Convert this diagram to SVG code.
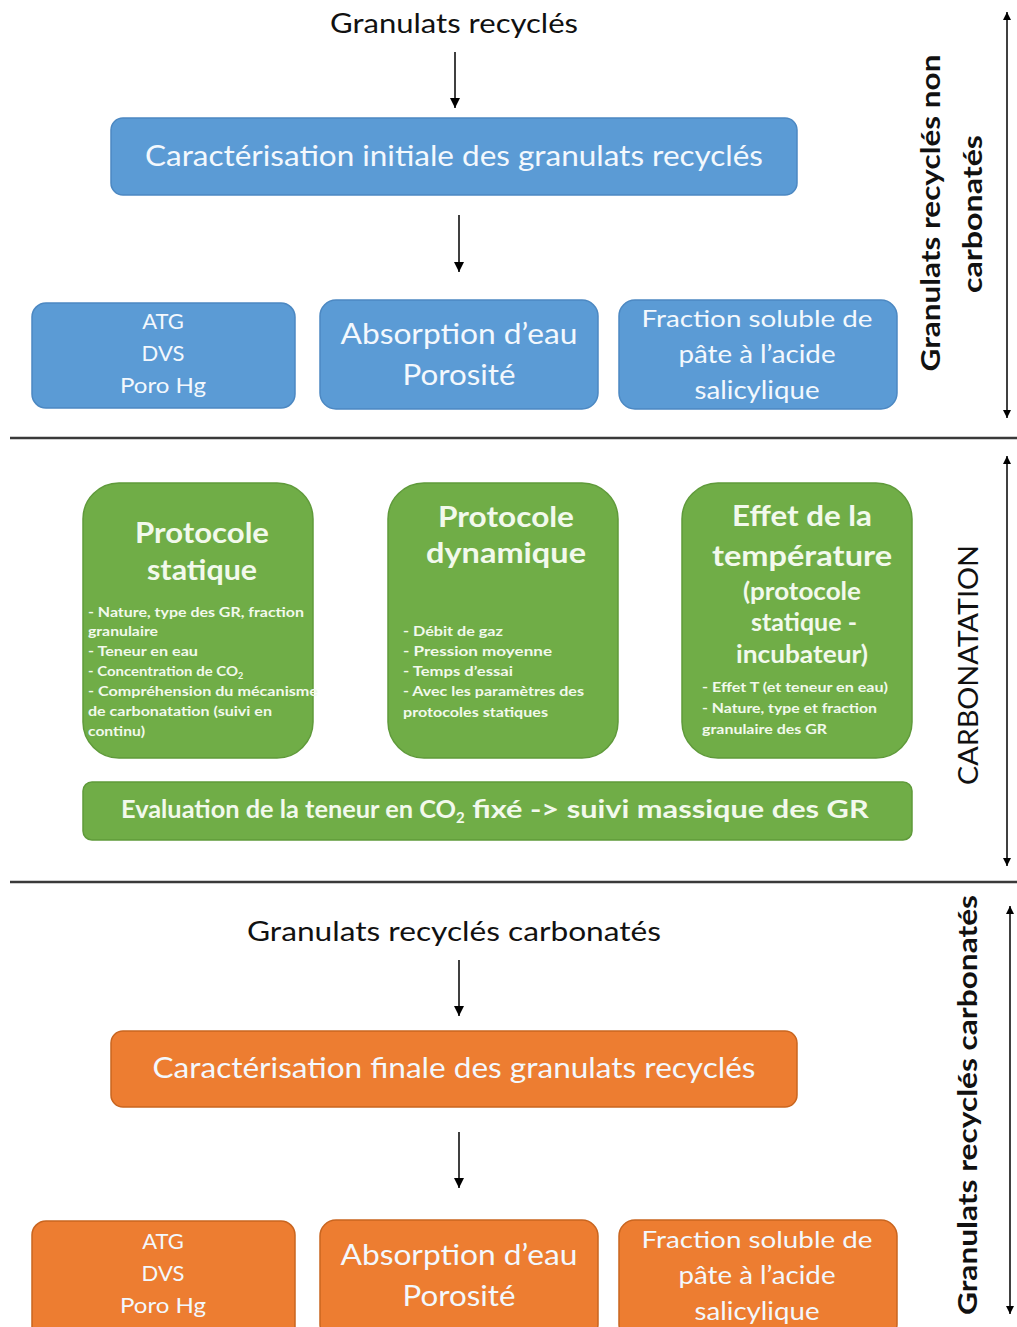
<svg xmlns="http://www.w3.org/2000/svg" width="1017" height="1327" viewBox="0 0 1017 1327">
<defs>
<marker id="ah" viewBox="0 0 10 10" refX="10" refY="5" markerWidth="10" markerHeight="10" markerUnits="userSpaceOnUse" orient="auto-start-reverse">
<path d="M0,0 L10,5 L0,10 z" fill="#000"/>
</marker>
<marker id="ah2" viewBox="0 0 10 10" refX="10" refY="5" markerWidth="8" markerHeight="8" markerUnits="userSpaceOnUse" orient="auto-start-reverse">
<path d="M0,0 L10,5 L0,10 z" fill="#000"/>
</marker>
</defs>
<style>
text{font-family:Lato,"Open Sans","Liberation Sans",sans-serif;}
.blue{fill:#5B9BD5;stroke:#4C88C2;stroke-width:1.5;}
.orange{fill:#ED7D31;stroke:#C9651F;stroke-width:1.5;}
.green{fill:#70AD47;stroke:#5F9A3A;stroke-width:1.5;}
.lt{fill:#F3F8FD;text-anchor:middle;}
.gt{fill:#F2F9EC;font-weight:bold;}
.gtc{fill:#F2F9EC;font-weight:bold;text-anchor:middle;}
.blk{fill:#111;text-anchor:middle;}
.side{fill:#111;text-anchor:middle;font-weight:bold;}
.conn{stroke:#000;stroke-width:1.5;fill:none;}
.sep{stroke:#3a3a3a;stroke-width:2.5;}
</style>
<rect width="1017" height="1327" fill="#fff"/>

<g id="connectors">
<line class="conn" x1="455" y1="52" x2="455" y2="108" marker-end="url(#ah)"/>
<line class="conn" x1="459" y1="215" x2="459" y2="272" marker-end="url(#ah)"/>
<line class="conn" x1="459" y1="960" x2="459" y2="1016" marker-end="url(#ah)"/>
<line class="conn" x1="459" y1="1132" x2="459" y2="1188" marker-end="url(#ah)"/>
<line class="conn" x1="1007" y1="12" x2="1007" y2="418" marker-start="url(#ah2)" marker-end="url(#ah2)"/>
<line class="conn" x1="1007" y1="456" x2="1007" y2="866" marker-start="url(#ah2)" marker-end="url(#ah2)"/>
<line class="conn" x1="1010" y1="906" x2="1010" y2="1314" marker-start="url(#ah2)" marker-end="url(#ah2)"/>
</g>

<g id="separators">
<line class="sep" x1="10" y1="438" x2="1017" y2="438"/>
<line class="sep" x1="10" y1="882" x2="1017" y2="882"/>
</g>

<g id="label-top">
<text class="blk" x="454" y="33" font-size="26" textLength="248" lengthAdjust="spacingAndGlyphs">Granulats recyclés</text>
</g>

<g id="caract-initiale">
<rect class="blue" x="111" y="118" width="686" height="77" rx="12"/>
<text class="lt" x="454" y="166" font-size="28" textLength="618" lengthAdjust="spacingAndGlyphs">Caractérisation initiale des granulats recyclés</text>
</g>

<g id="blue-atg">
<rect class="blue" x="32" y="303" width="263" height="105" rx="14"/>
<text class="lt" x="163" y="329" font-size="22">ATG</text>
<text class="lt" x="163" y="361" font-size="22">DVS</text>
<text class="lt" x="163" y="393" font-size="22" textLength="86" lengthAdjust="spacingAndGlyphs">Poro Hg</text>
</g>

<g id="blue-absorption">
<rect class="blue" x="320" y="300" width="278" height="109" rx="16"/>
<text class="lt" x="459" y="344" font-size="28" textLength="237" lengthAdjust="spacingAndGlyphs">Absorption d’eau</text>
<text class="lt" x="459" y="385" font-size="28" textLength="113" lengthAdjust="spacingAndGlyphs">Porosité</text>
</g>

<g id="blue-fraction">
<rect class="blue" x="619" y="300" width="278" height="109" rx="16"/>
<text class="lt" x="757" y="327" font-size="24" textLength="231" lengthAdjust="spacingAndGlyphs">Fraction soluble de</text>
<text class="lt" x="757" y="363" font-size="25" textLength="157" lengthAdjust="spacingAndGlyphs">pâte à l’acide</text>
<text class="lt" x="757" y="399" font-size="25" textLength="125" lengthAdjust="spacingAndGlyphs">salicylique</text>
</g>

<g id="side-non-carbonates">
<text class="side" font-size="26" transform="translate(940,213) rotate(-90)" textLength="317" lengthAdjust="spacingAndGlyphs">Granulats recyclés non</text>
<text class="side" font-size="26" transform="translate(982,214) rotate(-90)" textLength="158" lengthAdjust="spacingAndGlyphs">carbonatés</text>
</g>

<g id="protocole-statique">
<rect class="green" x="83" y="483" width="230" height="275" rx="36"/>
<text class="gtc" x="202" y="543" font-size="28" textLength="134" lengthAdjust="spacingAndGlyphs">Protocole</text>
<text class="gtc" x="202" y="580" font-size="28" textLength="110" lengthAdjust="spacingAndGlyphs">statique</text>
<text class="gt" x="88" y="617" font-size="14" textLength="216" lengthAdjust="spacingAndGlyphs">- Nature, type des GR, fraction</text>
<text class="gt" x="88" y="636" font-size="14" textLength="70" lengthAdjust="spacingAndGlyphs">granulaire</text>
<text class="gt" x="88" y="656" font-size="14" textLength="110" lengthAdjust="spacingAndGlyphs">- Teneur en eau</text>
<text class="gt" x="88" y="676" font-size="14"><tspan textLength="150" lengthAdjust="spacingAndGlyphs">- Concentration  de CO</tspan><tspan font-size="9" dy="3">2</tspan></text>
<text class="gt" x="88" y="696" font-size="14" textLength="230" lengthAdjust="spacingAndGlyphs">- Compréhension  du mécanisme</text>
<text class="gt" x="88" y="716" font-size="14" textLength="184" lengthAdjust="spacingAndGlyphs">de carbonatation  (suivi en</text>
<text class="gt" x="88" y="736" font-size="14" textLength="57" lengthAdjust="spacingAndGlyphs">continu)</text>
</g>

<g id="protocole-dynamique">
<rect class="green" x="388" y="483" width="230" height="275" rx="36"/>
<text class="gtc" x="506" y="527" font-size="28" textLength="136" lengthAdjust="spacingAndGlyphs">Protocole</text>
<text class="gtc" x="506" y="563" font-size="28" textLength="160" lengthAdjust="spacingAndGlyphs">dynamique</text>
<text class="gt" x="403" y="636" font-size="14" textLength="100" lengthAdjust="spacingAndGlyphs">- Débit de gaz</text>
<text class="gt" x="403" y="656" font-size="14" textLength="149" lengthAdjust="spacingAndGlyphs">- Pression moyenne</text>
<text class="gt" x="403" y="676" font-size="14" textLength="110" lengthAdjust="spacingAndGlyphs">- Temps d’essai</text>
<text class="gt" x="403" y="696" font-size="14" textLength="181" lengthAdjust="spacingAndGlyphs">- Avec les paramètres des</text>
<text class="gt" x="403" y="717" font-size="14" textLength="145" lengthAdjust="spacingAndGlyphs">protocoles  statiques</text>
</g>

<g id="effet-temperature">
<rect class="green" x="682" y="483" width="230" height="275" rx="36"/>
<text class="gtc" x="802" y="526" font-size="28" textLength="140" lengthAdjust="spacingAndGlyphs">Effet de la</text>
<text class="gtc" x="802" y="566" font-size="28" textLength="180" lengthAdjust="spacingAndGlyphs">température</text>
<text class="gtc" x="802" y="600" font-size="24" textLength="118" lengthAdjust="spacingAndGlyphs">(protocole</text>
<text class="gtc" x="804" y="631" font-size="24" textLength="106" lengthAdjust="spacingAndGlyphs">statique -</text>
<text class="gtc" x="802" y="663" font-size="24" textLength="132" lengthAdjust="spacingAndGlyphs">incubateur)</text>
<text class="gt" x="702" y="692" font-size="14" textLength="186" lengthAdjust="spacingAndGlyphs">- Effet T (et teneur  en eau)</text>
<text class="gt" x="702" y="713" font-size="14" textLength="175" lengthAdjust="spacingAndGlyphs">- Nature, type et fraction</text>
<text class="gt" x="702" y="734" font-size="14" textLength="125" lengthAdjust="spacingAndGlyphs">granulaire des GR</text>
</g>

<g id="evaluation">
<rect class="green" x="83" y="782" width="829" height="58" rx="9"/>
<text class="gt" x="121" y="818" font-size="24"><tspan textLength="335" lengthAdjust="spacingAndGlyphs">Evaluation  de la teneur en CO</tspan><tspan font-size="15" dy="5">2</tspan><tspan dy="-5" textLength="404" lengthAdjust="spacingAndGlyphs"> fixé -&gt; suivi  massique  des GR</tspan></text>
</g>

<g id="side-carbonatation">
<text font-family="Liberation Sans, Arial, sans-serif" font-size="26" fill="#111" text-anchor="middle" transform="translate(978,665) rotate(-90)" textLength="240" lengthAdjust="spacingAndGlyphs">CARBONATATION</text>
</g>

<g id="label-bottom">
<text class="blk" x="454" y="941" font-size="26" textLength="414" lengthAdjust="spacingAndGlyphs">Granulats recyclés carbonatés</text>
</g>

<g id="caract-finale">
<rect class="orange" x="111" y="1031" width="686" height="76" rx="12"/>
<text class="lt" x="454" y="1078" font-size="28" textLength="603" lengthAdjust="spacingAndGlyphs">Caractérisation finale des granulats recyclés</text>
</g>

<g id="orange-atg">
<rect class="orange" x="32" y="1221" width="263" height="120" rx="14"/>
<text class="lt" x="163" y="1249" font-size="22">ATG</text>
<text class="lt" x="163" y="1281" font-size="22">DVS</text>
<text class="lt" x="163" y="1313" font-size="22" textLength="86" lengthAdjust="spacingAndGlyphs">Poro Hg</text>
</g>

<g id="orange-absorption">
<rect class="orange" x="320" y="1220" width="278" height="120" rx="16"/>
<text class="lt" x="459" y="1265" font-size="28" textLength="237" lengthAdjust="spacingAndGlyphs">Absorption d’eau</text>
<text class="lt" x="459" y="1306" font-size="28" textLength="113" lengthAdjust="spacingAndGlyphs">Porosité</text>
</g>

<g id="orange-fraction">
<rect class="orange" x="619" y="1220" width="278" height="120" rx="16"/>
<text class="lt" x="757" y="1248" font-size="24" textLength="231" lengthAdjust="spacingAndGlyphs">Fraction soluble de</text>
<text class="lt" x="757" y="1284" font-size="25" textLength="157" lengthAdjust="spacingAndGlyphs">pâte à l’acide</text>
<text class="lt" x="757" y="1320" font-size="25" textLength="125" lengthAdjust="spacingAndGlyphs">salicylique</text>
</g>

<g id="side-carbonates">
<text class="side" font-size="26" transform="translate(977,1105) rotate(-90)" textLength="420" lengthAdjust="spacingAndGlyphs">Granulats recyclés carbonatés</text>
</g>
</svg>
